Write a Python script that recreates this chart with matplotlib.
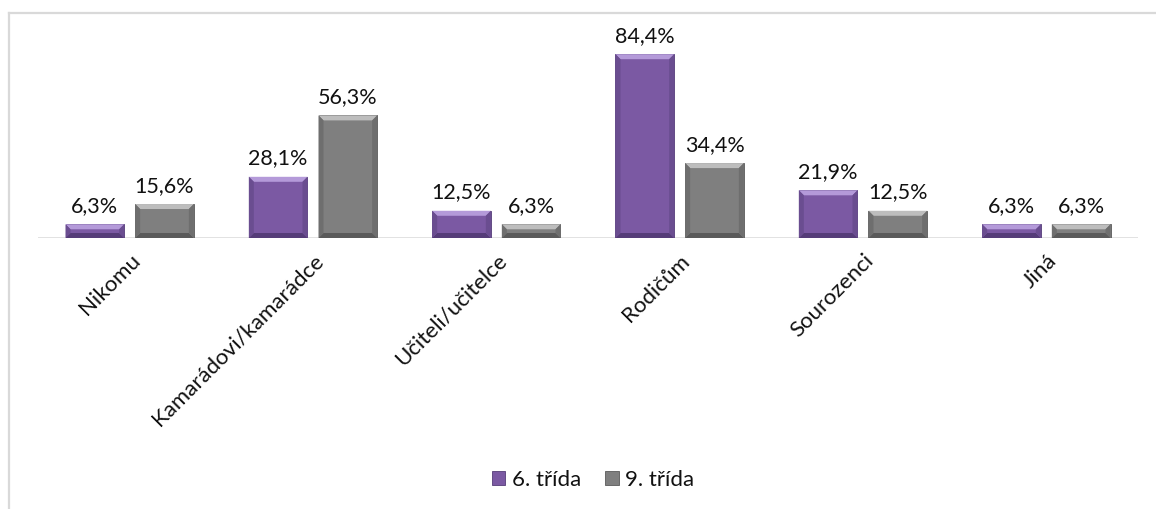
import matplotlib
matplotlib.use("Agg")
import matplotlib.pyplot as plt
from matplotlib.patches import Polygon
from matplotlib.lines import Line2D
import numpy as np

categories = ["Nikomu", "Kamarádovi/kamarádce", "Učiteli/učitelce", "Rodičům", "Sourozenci", "Jiná"]
series_names = ["6. třída", "9. třída"]
values_6 = [6.3, 28.1, 12.5, 84.4, 21.9, 6.3]
values_9 = [15.6, 56.3, 6.3, 34.4, 12.5, 6.3]

plt.rcParams['font.family'] = ['Lato', 'DejaVu Sans']

W, H = 1156, 509
fig = plt.figure(figsize=(W / 100, H / 100), dpi=100)
ax = fig.add_axes([38 / W, 271 / H, 1100 / W, 196 / H])
ax.set_xlim(-0.5, len(categories) - 0.5)
ax.set_ylim(0, 90)

x = np.arange(len(categories))
off = 0.19
bw = 0.32
colors = ["#7B59A3", "#7F7F7F"]
light = ["#B49AD9", "#BDBDBD"]
dark = ["#553C78", "#5A5A5A"]
mid_dark = ["#6A4D90", "#6E6E6E"]

# px -> data conversions
px_x = 6 / 1100.0
px_y = 90 / 196.0

for si, (vals, sign) in enumerate([(values_6, -1), (values_9, 1)]):
    bars = ax.bar(x + sign * off, vals, width=bw, color=colors[si], label=series_names[si],
                  edgecolor=dark[si], linewidth=0.6, zorder=3)
    for b, v in zip(bars, vals):
        x0, x1 = b.get_x(), b.get_x() + b.get_width()
        y0, y1 = 0, b.get_height()
        bpx = min(5, (y1 - y0) / px_y / 2.5)
        dx = bpx * px_x
        dy = bpx * px_y
        ax.add_patch(Polygon([[x0, y1], [x1, y1], [x1 - dx, y1 - dy], [x0 + dx, y1 - dy]],
                             closed=True, facecolor=light[si], edgecolor='none', zorder=4))
        ax.add_patch(Polygon([[x0, y0], [x1, y0], [x1 - dx, y0 + dy], [x0 + dx, y0 + dy]],
                             closed=True, facecolor=dark[si], edgecolor='none', zorder=4))
        ax.add_patch(Polygon([[x0, y0], [x0, y1], [x0 + dx, y1 - dy], [x0 + dx, y0 + dy]],
                             closed=True, facecolor=mid_dark[si], edgecolor='none', zorder=4))
        ax.add_patch(Polygon([[x1, y0], [x1, y1], [x1 - dx, y1 - dy], [x1 - dx, y0 + dy]],
                             closed=True, facecolor=mid_dark[si], edgecolor='none', zorder=4))
        ax.annotate(f"{v:.1f}".replace(".", ",") + "%", (b.get_x() + b.get_width() / 2, y1),
                    xytext=(0, 6), textcoords="offset points", ha="center", va="bottom",
                    fontsize=15.5, color="#111111")

for s in ax.spines.values():
    s.set_visible(False)
ax.axhline(0, color="#D9D9D9", linewidth=1.8, zorder=2)
ax.set_yticks([])
ax.set_xticks(x)
ax.set_xticklabels(categories, rotation=45, ha="right", rotation_mode="anchor",
                   fontsize=16, color="#111111")
ax.tick_params(axis="x", length=0, pad=9)

# frame (top and left visible)
fig.add_artist(Line2D([9 / W, 9 / W], [0, 1 - 13 / H], transform=fig.transFigure,
                      color="#D9D9D9", linewidth=1.6))
fig.add_artist(Line2D([9 / W, 1], [1 - 13 / H, 1 - 13 / H], transform=fig.transFigure,
                      color="#D9D9D9", linewidth=1.6))

leg = fig.legend(loc="center", bbox_to_anchor=(593 / W, 29 / H), ncol=2, frameon=False,
                 fontsize=16, handlelength=0.6, handleheight=0.6, handletextpad=0.3,
                 columnspacing=1.1)
for t in leg.get_texts():
    t.set_color("#111111")

fig.savefig("out.png", dpi=100)
